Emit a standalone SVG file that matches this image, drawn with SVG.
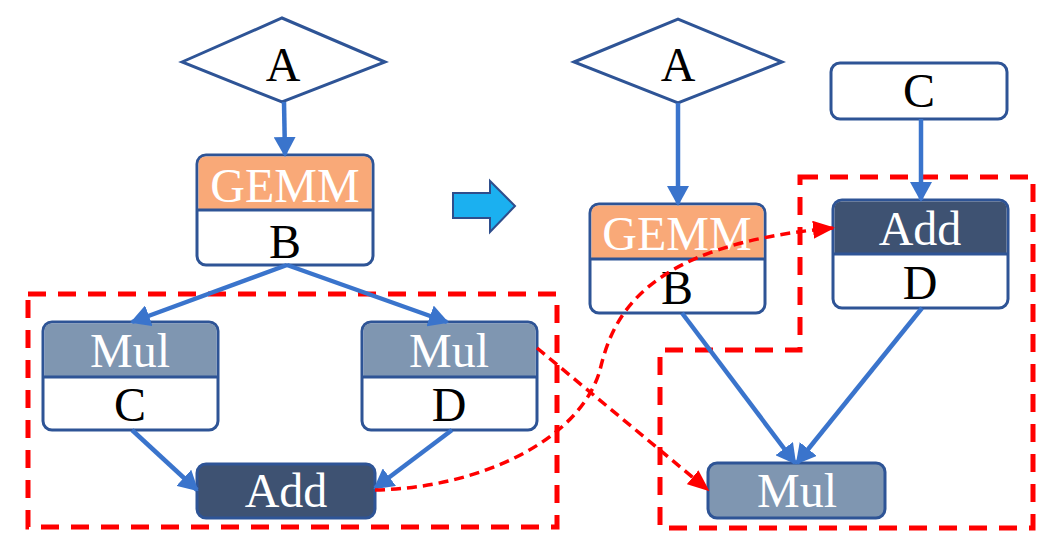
<svg xmlns="http://www.w3.org/2000/svg" width="1043" height="544" viewBox="0 0 1043 544">
<defs>
<marker id="ba" markerUnits="userSpaceOnUse" markerWidth="20" markerHeight="22" viewBox="0 0 20 22" refX="18" refY="11" orient="auto">
<path d="M0,0 L20,11 L0,22 Z" fill="#3A74CC"/>
</marker>
<marker id="ra" markerUnits="userSpaceOnUse" markerWidth="22" markerHeight="18" viewBox="0 0 22 18" refX="20" refY="9" orient="auto">
<path d="M0,0 L22,9 L0,18 Z" fill="#FF0000"/>
</marker>
</defs>
<style>
.n{stroke:#2E5496;stroke-width:3;fill:#FFFFFF}
.hd{stroke:none}
.dv{stroke:#2E5496;stroke-width:3}
.t{font-family:"Liberation Serif","Times New Roman",serif;font-size:48px;text-anchor:middle;fill:#000}
.w{fill:#FFFFFF}
.c{stroke:#3A74CC;stroke-width:4.5;fill:none;marker-end:url(#ba)}
.grp{stroke:#FF0000;stroke-width:5;fill:none;stroke-dasharray:18 12}
.rc{stroke:#FF0000;stroke-width:3.5;fill:none;stroke-dasharray:10 6;marker-end:url(#ra)}
</style>
<rect width="1043" height="544" fill="#FFFFFF"/>

<g id="groups">
<rect class="grp" x="28" y="294" width="529" height="233"/>
<path class="grp" d="M800,177 H1033 V528 H660 V350 H800 Z"/>
</g>

<g id="L_A">
<polygon class="n" points="182,62 282,18 385,62 282,102"/>
<text class="t" x="283" y="81">A</text>
</g>
<g id="L_GEMM">
<rect class="n" x="197" y="155" width="176" height="110" rx="9"/>
<path class="hd" fill="#F9A978" d="M198.5,210 V164 Q198.5,156.5 206,156.5 H364 Q371.5,156.5 371.5,164 V210 Z"/>
<line class="dv" x1="197" y1="210" x2="373" y2="210"/>
<text class="t w" x="285" y="202">GEMM</text>
<text class="t" x="285" y="258">B</text>
</g>
<g id="L_MulC">
<rect class="n" x="43" y="322" width="175" height="108" rx="9"/>
<path class="hd" fill="#7F96B1" d="M44.5,377 V331 Q44.5,323.5 52,323.5 H209 Q216.5,323.5 216.5,331 V377 Z"/>
<line class="dv" x1="43" y1="377" x2="218" y2="377"/>
<text class="t w" x="130" y="367">Mul</text>
<text class="t" x="130" y="421">C</text>
</g>
<g id="L_MulD">
<rect class="n" x="362" y="322" width="175" height="108" rx="9"/>
<path class="hd" fill="#7F96B1" d="M363.5,377 V331 Q363.5,323.5 371,323.5 H528 Q535.5,323.5 535.5,331 V377 Z"/>
<line class="dv" x1="362" y1="377" x2="537" y2="377"/>
<text class="t w" x="449" y="367">Mul</text>
<text class="t" x="449" y="421">D</text>
</g>
<g id="L_Add">
<rect class="n" x="197" y="464" width="178" height="54" rx="9" fill="#3E5272" style="fill:#3E5272"/>
<text class="t w" x="286" y="507">Add</text>
</g>

<g id="bigArrow">
<polygon points="453,193 490,193 490,181 515,206 490,232 490,218 453,218" fill="#1BB0F0" stroke="#2F4E8C" stroke-width="2"/>
</g>

<g id="R_A">
<polygon class="n" points="574,62 678,19 782,62 678,103"/>
<text class="t" x="678" y="81">A</text>
</g>
<g id="R_C">
<rect class="n" x="831" y="63" width="176" height="56" rx="9"/>
<text class="t" x="919" y="107">C</text>
</g>
<g id="R_GEMM">
<rect class="n" x="590" y="204" width="175" height="109" rx="9"/>
<path class="hd" fill="#F9A978" d="M591.5,259 V213 Q591.5,205.5 599,205.5 H756 Q763.5,205.5 763.5,213 V259 Z"/>
<line class="dv" x1="590" y1="259" x2="765" y2="259"/>
<text class="t w" x="677" y="250">GEMM</text>
<text class="t" x="677" y="304">B</text>
</g>
<g id="R_AddD">
<rect class="n" x="833" y="200" width="175" height="108" rx="9"/>
<path class="hd" fill="#3E5272" d="M834.5,254 V209 Q834.5,201.5 842,201.5 H999 Q1006.5,201.5 1006.5,209 V254 Z"/>
<line class="dv" x1="833" y1="254" x2="1008" y2="254"/>
<text class="t w" x="920" y="245">Add</text>
<text class="t" x="920" y="299">D</text>
</g>
<g id="R_Mul">
<rect class="n" x="708" y="463" width="177" height="55" rx="9" style="fill:#7F96B1"/>
<text class="t w" x="797" y="507">Mul</text>
</g>

<g id="connectors">
<line class="c" x1="284" y1="102" x2="285" y2="155"/>
<line class="c" x1="287" y1="265" x2="132" y2="322"/>
<line class="c" x1="287" y1="265" x2="447" y2="322"/>
<line class="c" x1="132" y1="430" x2="197" y2="490"/>
<line class="c" x1="452" y1="430" x2="375" y2="488"/>
<line class="c" x1="678" y1="103" x2="678" y2="204"/>
<line class="c" x1="921" y1="119" x2="921" y2="200"/>
<line class="c" x1="682" y1="313" x2="795" y2="463"/>
<line class="c" x1="922" y1="308" x2="797" y2="463"/>
<path class="rc" d="M537,348 L708,490"/>
<path class="rc" d="M375,490 C480,488 580,440 600,370 C612,320 640,245 833,228"/>
</g>
</svg>
